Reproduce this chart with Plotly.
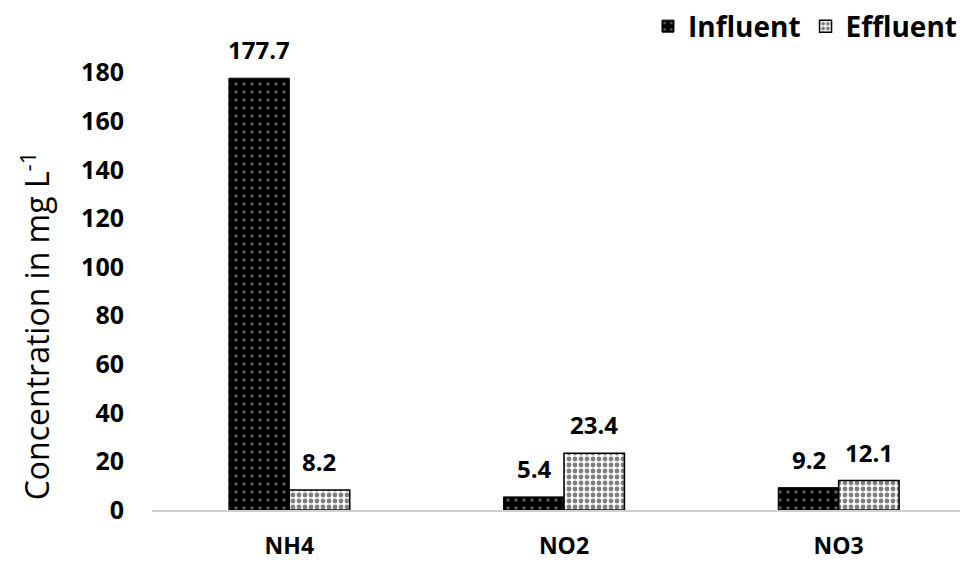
import plotly.graph_objects as go

categories = ["NH4", "NO2", "NO3"]
influent = [177.7, 5.4, 9.2]
effluent = [8.2, 23.4, 12.1]
y_ticks = [0, 20, 40, 60, 80, 100, 120, 140, 160, 180]

font_fam = "Open Sans, Lato, sans-serif"

fig = go.Figure()
fig.add_trace(go.Bar(
    name="Influent", x=categories, y=influent,
    marker=dict(color="black", line=dict(color="black", width=1),
                pattern=dict(shape=".", bgcolor="black", fgcolor="#bbbbbb",
                             size=8, solidity=0.15, fillmode="overlay")),
))
fig.add_trace(go.Bar(
    name="Effluent", x=categories, y=effluent,
    marker=dict(color="white", line=dict(color="black", width=1.5),
                pattern=dict(shape=".", bgcolor="white", fgcolor="black",
                             size=6, solidity=0.5, fillmode="overlay")),
))

annotations = []
for series, shift in ((influent, -30), (effluent, 30)):
    for cat, v in zip(categories, series):
        annotations.append(dict(
            x=cat, y=v, xref="x", yref="y", text=f"{v:.1f}", showarrow=False,
            xshift=shift, yshift=10, yanchor="bottom",
            font=dict(size=24, color="black", family=font_fam, weight="bold"),
        ))

# y-axis title placed as a rotated annotation to match the reference position
annotations.append(dict(
    text="Concentration in mg L<sup>-1</sup>", textangle=-90, showarrow=False,
    xref="paper", yref="paper", x=-0.142, y=0.38, xanchor="center", yanchor="middle",
    font=dict(size=32, color="black", family=font_fam),
))

fig.update_layout(
    width=968, height=565,
    paper_bgcolor="white", plot_bgcolor="white",
    margin=dict(l=144, r=0, t=16, b=63, autoexpand=False),
    barmode="group", bargap=0.56, bargroupgap=0,
    font=dict(family=font_fam, color="black"),
    annotations=annotations,
    legend=dict(orientation="h", x=0.983, xanchor="right", y=0.995, yanchor="middle",
                font=dict(size=28, weight="bold", family=font_fam),
                itemwidth=30, traceorder="normal", bgcolor="rgba(0,0,0,0)"),
    xaxis=dict(showline=True, linecolor="#d0d0d0", linewidth=1.5, ticks="outside",
               ticklen=15, tickcolor="rgba(0,0,0,0)",
               tickfont=dict(size=23, weight="bold")),
    yaxis=dict(range=[0, 200], tickvals=y_ticks, showgrid=False, zeroline=False,
               showline=False, tickfont=dict(size=25, weight="bold"),
               ticks="outside", ticklen=22, tickcolor="rgba(0,0,0,0)"),
)

fig.write_html("out.html")
